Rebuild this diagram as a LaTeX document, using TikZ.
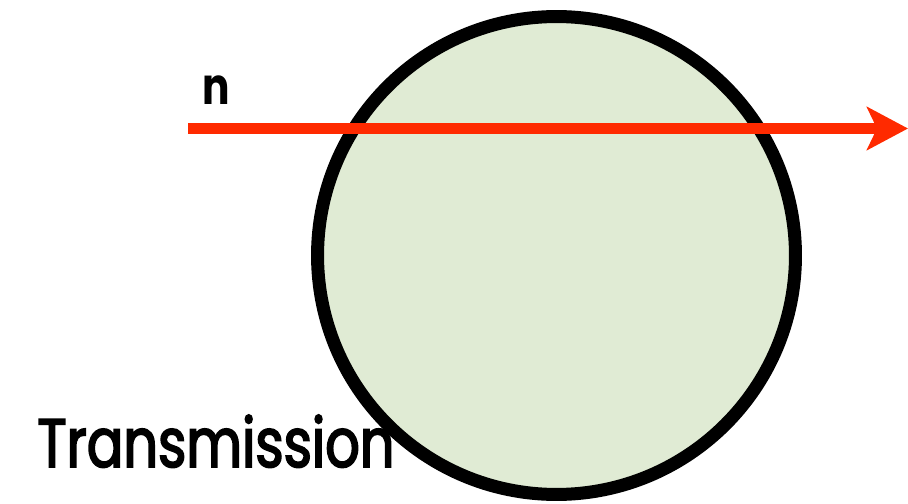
\documentclass[tikz,border=0pt]{standalone}
\usepackage{fontspec}
\setmainfont{Poppins}
\newfontfamily\labelfont{Poppins}[FakeStretch=0.79, FakeBold=2.5]
\newfontfamily\symfont{Poppins}[FakeStretch=0.8]
\usetikzlibrary{arrows.meta}
\definecolor{ballfill}{RGB}{224,235,212}
\definecolor{raycol}{RGB}{255,42,0}

\begin{document}
\begin{tikzpicture}[x=0.02cm, y=-0.02cm,
  ball/.style={circle, draw=black, fill=ballfill, line width=0.26cm,
               minimum size=9.56cm, inner sep=0pt},
  ray/.style={-{Stealth[length=0.82cm, width=0.86cm, inset=0.2cm]},
              raycol, line width=0.22cm},
  caption/.style={anchor=base west, inner sep=0pt},
]
\useasboundingbox (0,0) rectangle (908,503);

% Sphere
\node[ball] (sphere) at (556.5,255.5) {};

% Incoming ray
\coordinate (rayin)  at (188,128.5);
\coordinate (rayout) at (908,128.5);
\draw[ray] (rayin) -- (rayout);

% Labels
\node[caption, font=\symfont\bfseries\fontsize{29}{29}\selectfont] (nlabel) at (202,105) {n};
\node[caption, font=\labelfont\fontsize{39}{39}\selectfont] (translabel) at (37,467) {Transmission};

\end{tikzpicture}
\end{document}
